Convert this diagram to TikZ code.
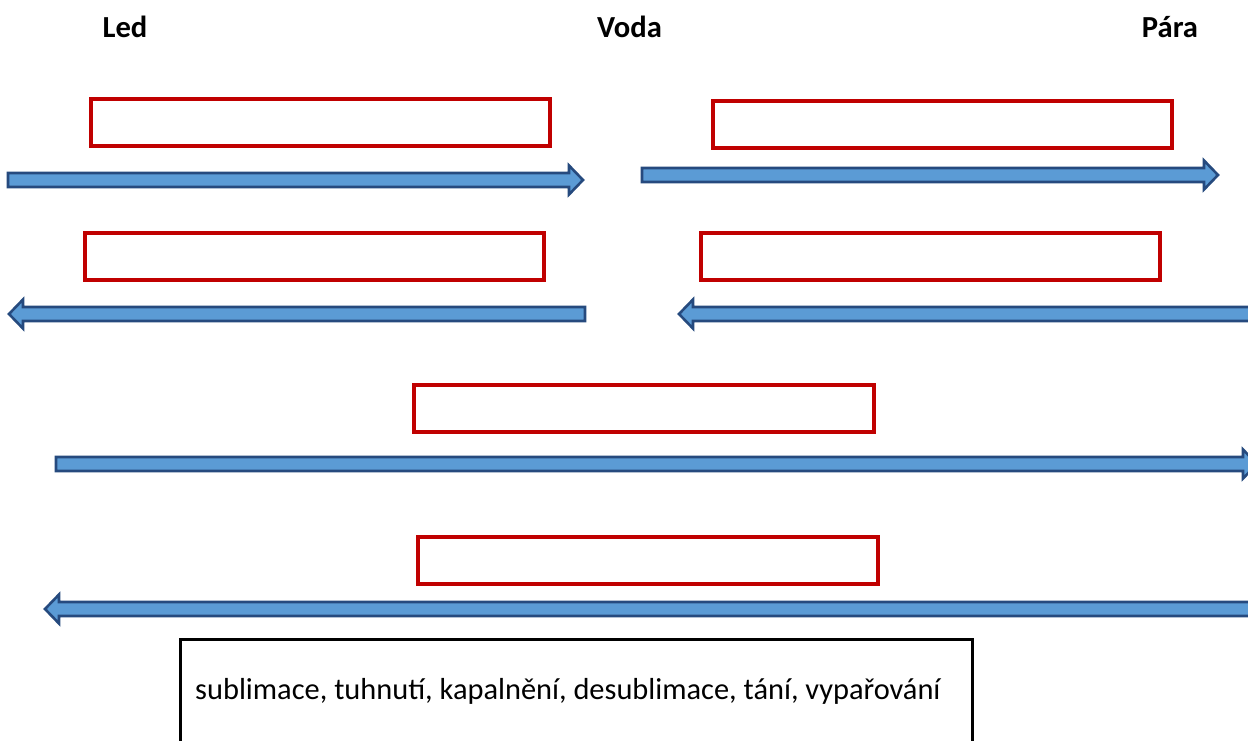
\documentclass[tikz,border=0pt]{standalone}
\usepackage{fontspec}
\setmainfont{Carlito}
\definecolor{boxred}{HTML}{C00000}
\definecolor{arrfill}{HTML}{5B9BD5}
\definecolor{arrline}{HTML}{264A7E}
\tikzset{
  redbox/.style={draw=boxred, line width=3.5pt},
  blackbox/.style={draw=black, line width=3pt},
  blockarrow/.style={fill=arrfill, draw=arrline, line width=2.6pt, line join=miter},
  header/.style={font=\bfseries\fontsize{30.6}{36}\selectfont, anchor=base, inner sep=0pt},
  bodytext/.style={font=\fontsize{30.4}{36}\selectfont, anchor=base west, inner sep=0pt}
}
% right-pointing block arrow: tail x, tip x, centre y
\newcommand\myRarrow[3]{%
  \path[blockarrow] (#1,#3-7) -- (#2-14,#3-7) -- (#2-14,#3-14.5) -- (#2,#3)
    -- (#2-14,#3+14.5) -- (#2-14,#3+7) -- (#1,#3+7) -- cycle;}
% left-pointing block arrow: tip x, tail x, centre y
\newcommand\myLarrow[3]{%
  \path[blockarrow] (#2,#3-7) -- (#1+14,#3-7) -- (#1+14,#3-14.5) -- (#1,#3)
    -- (#1+14,#3+14.5) -- (#1+14,#3+7) -- (#2,#3+7) -- cycle;}
\begin{document}
\begin{tikzpicture}[x=1pt, y=-1pt]
\useasboundingbox (0,0) rectangle (1248,740);
\clip (0,0) rectangle (1248,740);
\fill[white] (0,0) rectangle (1248,740);

\node[header] (led) at (125,37) {Led};
\node[header] (voda) at (629.5,37) {Voda};
\node[header] (para) at (1170,37) {Pára};

\draw[redbox] (91,99) rectangle (550,146);
\draw[redbox] (713,101) rectangle (1172,148);
\draw[redbox] (85,233) rectangle (544,280);
\draw[redbox] (701,233) rectangle (1160,280);
\draw[redbox] (414,385) rectangle (874,432);
\draw[redbox] (418,537) rectangle (878,584);

\myRarrow{8}{583}{180}
\myRarrow{642}{1218}{175}
\myLarrow{9}{585}{314}
\myLarrow{679}{1252}{314}
\myRarrow{56}{1257}{464}
\myLarrow{45}{1252}{609}

\draw[blackbox] (180,750) -- (180,639) -- (972,639) -- (972,750);
\node[bodytext] (words) at (195,699) {sublimace, tuhnutí, kapalnění, desublimace, tání, vypařování};
\end{tikzpicture}
\end{document}
